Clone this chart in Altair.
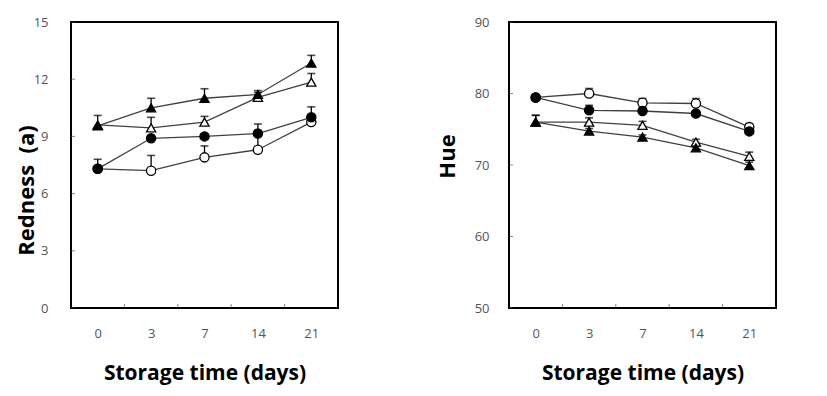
import json
import altair as alt
import pandas as pd

days = ["0", "3", "7", "14", "21"]
series = ["open triangle", "open circle", "filled triangle", "filled circle"]
shapes = ["triangle-up", "circle", "triangle-up", "circle"]
fills = ["white", "white", "black", "black"]

# Redness (a)
red_ot = [9.6, 9.45, 9.75, 11.05, 11.85]
red_oc = [7.3, 7.2, 7.9, 8.3, 9.75]
red_ft = [9.55, 10.5, 11.0, 11.2, 12.85]
red_fc = [7.3, 8.9, 9.0, 9.15, 10.0]
red_ot_up = [9.6, 10.0, 10.05, 11.3, 12.3]
red_oc_up = [7.3, 8.0, 8.5, 9.1, 9.75]
red_ft_up = [10.1, 11.0, 11.5, 11.4, 13.25]
red_fc_up = [7.8, 8.9, 9.0, 9.65, 10.55]

# Hue
hue_ot = [76.0, 76.0, 75.55, 73.2, 71.2]
hue_oc = [79.45, 80.0, 78.7, 78.6, 75.3]
hue_ft = [76.0, 74.75, 73.9, 72.4, 69.9]
hue_fc = [79.45, 77.65, 77.55, 77.2, 74.7]
hue_ot_up = [76.95, 76.6, 76.1, 73.6, 71.8]
hue_oc_up = [79.7, 80.7, 79.3, 79.3, 75.8]
hue_ft_up = [76.95, 75.1, 74.2, 72.7, 70.4]
hue_fc_up = [79.7, 78.35, 78.0, 77.5, 75.1]

red_y_ticks = [0, 3, 6, 9, 12, 15]
hue_y_ticks = [50, 60, 70, 80, 90]


def build_df(vals, ups):
    rows = []
    for s, v, u in zip(series, vals, ups):
        for i, d in enumerate(days):
            rows.append({"idx": i, "day": d, "series": s, "value": v[i], "upper": u[i]})
    return pd.DataFrame(rows)


red_df = build_df([red_ot, red_oc, red_ft, red_fc], [red_ot_up, red_oc_up, red_ft_up, red_fc_up])
hue_df = build_df([hue_ot, hue_oc, hue_ft, hue_fc], [hue_ot_up, hue_oc_up, hue_ft_up, hue_fc_up])

label_expr = json.dumps(days) + "[datum.value]"
FONT = "Open Sans"


def panel(df, yticks, ytitle, title_x, title_y, label_pad):
    ymin, ymax = yticks[0], yticks[-1]
    x = alt.X(
        "idx:Q",
        scale=alt.Scale(domain=[-0.5, len(days) - 0.5], nice=False, zero=False),
        axis=alt.Axis(
            values=list(range(len(days))), labelExpr=label_expr,
            title="Storage time (days)", ticks=False, domain=False, grid=False,
            labelPadding=19, titlePadding=22, titleFontSize=21,
        ),
    )
    y = alt.Y(
        "value:Q",
        scale=alt.Scale(domain=[ymin, ymax], nice=False, zero=False),
        axis=alt.Axis(
            values=yticks, title=ytitle, ticks=False, domain=False, grid=False,
            labelPadding=label_pad, titleX=title_x, titleY=title_y, titleFontSize=22,
        ),
    )
    base = alt.Chart(df)
    lines = base.mark_line(color="#404040", strokeWidth=1.3).encode(x=x, y=y, detail="series:N")
    err_df = df[df["upper"] > df["value"]]
    rules = alt.Chart(err_df).mark_rule(color="black", strokeWidth=1.3).encode(
        x=x, y=y, y2="upper:Q")
    caps = alt.Chart(err_df).mark_tick(
        orient="horizontal", color="black", size=8, thickness=1.6).encode(
        x=x, y=alt.Y("upper:Q"))
    pts = base.mark_point(size=85, stroke="black", strokeWidth=1.3, opacity=1, fillOpacity=1).encode(
        x=x, y=y,
        shape=alt.Shape("series:N", scale=alt.Scale(domain=series, range=shapes), legend=None),
        fill=alt.Fill("series:N", scale=alt.Scale(domain=series, range=fills), legend=None),
    )
    xt_df = pd.DataFrame({"idx": [i + 0.5 for i in range(len(days) - 1)], "value": [ymin] * (len(days) - 1)})
    xticks = alt.Chart(xt_df).mark_tick(
        orient="vertical", color="#555", size=8, thickness=1, clip=True).encode(x=x, y=y)
    yt_df = pd.DataFrame({"idx": [-0.5] * len(yticks), "value": yticks})
    ytk = alt.Chart(yt_df).mark_tick(
        orient="horizontal", color="#555", size=8, thickness=1, clip=True).encode(x=x, y=y)
    return alt.layer(lines, rules, caps, xticks, ytk, pts).properties(width=267, height=286)


left = panel(red_df, red_y_ticks, "Redness \u00a0(a)", -33, 168, 23)
right = panel(hue_df, hue_y_ticks, "Hue", -50, 134, 20)

chart = alt.hconcat(left, right, spacing=96).properties(
    background="white",
    padding={"left": 6, "top": 7, "right": 5, "bottom": 5},
).configure_view(
    stroke="black", strokeWidth=2
).configure_axis(
    labelFont=FONT, labelFontSize=13, labelColor="#555",
    titleFont=FONT, titleFontWeight="bold", titleColor="black",
)

chart.save("out.html", embed_options={"renderer": "svg", "actions": False})
